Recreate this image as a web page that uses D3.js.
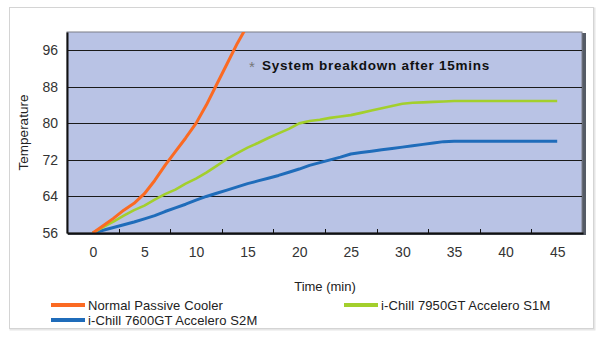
<!DOCTYPE html>
<html><head><meta charset="utf-8">
<script src="https://cdn.jsdelivr.net/npm/d3@7"></script>
<style>
html,body{margin:0;padding:0;background:#fff;}
svg{display:block;font-family:"Liberation Sans",Arial,sans-serif;}
</style></head>
<body><svg id="c" width="600" height="356"></svg>
<script>
const minutes = d3.range(0, 46);
const xTickLabels = [0,5,10,15,20,25,30,35,40,45];
const yTickLabels = [56,64,72,80,88,96];
const seriesNames = ["Normal Passive Cooler","i-Chill 7950GT Accelero S1M","i-Chill 7600GT Accelero S2M"];
const seriesColors = ["#fb6a22","#a3cf2c","#1f6cba"];
const normalPassive = [56,57.6,59.2,61,62.5,64.6,67.5,70.8,73.8,76.8,80,84,88.5,93,97.5,101.5];
const accS1M = [56,57.3,58.5,59.8,61,62,63.3,64.5,65.5,66.8,67.9,69.2,70.7,72.2,73.5,74.7,75.7,76.8,77.8,78.8,80,80.5,80.8,81.2,81.5,81.8,82.3,82.8,83.3,83.8,84.3,84.5,84.6,84.7,84.8,84.9,84.9,84.9,84.9,84.9,84.9,84.9,84.9,84.9,84.9,84.9];
const accS2M = [56,56.6,57.2,57.8,58.4,59.1,59.8,60.7,61.5,62.3,63.2,64,64.7,65.4,66.1,66.8,67.4,68,68.6,69.3,70,70.8,71.4,72,72.6,73.3,73.6,73.9,74.2,74.5,74.8,75.1,75.4,75.7,76,76.1,76.1,76.1,76.1,76.1,76.1,76.1,76.1,76.1,76.1,76.1];
const annotation = "System breakdown after 15mins";

const svg = d3.select("#c");
const L = 67, R = 583, T = 32, B = 233;
const x = d3.scaleLinear().domain([-2.5, 47.5]).range([L, R]);
const y = d3.scaleLinear().domain([56, 100]).range([B, T]);

// outer frame
svg.append("rect").attr("x", 10.5).attr("y", 8.5).attr("width", 584).attr("height", 321)
  .attr("fill", "none").attr("stroke", "#e6e6e6").attr("stroke-width", 2);
svg.append("rect").attr("x", 9.5).attr("y", 7.5).attr("width", 584).attr("height", 321)
  .attr("fill", "#fff").attr("stroke", "#d4d4d4");

// plot shadow + background
svg.append("rect").attr("x", L + 1).attr("y", T + 1).attr("width", R - L + 2).attr("height", B - T + 1)
  .attr("fill", "#555b66");
svg.append("rect").attr("x", L).attr("y", T).attr("width", R - L - 1).attr("height", B - T)
  .attr("fill", "#b9c3e5").attr("stroke", "#7c7f88").attr("stroke-width", 1);

// gridlines
svg.append("g").selectAll("line").data(yTickLabels.slice(1)).join("line")
  .attr("x1", L).attr("x2", R - 1)
  .attr("y1", d => Math.round(y(d)) + 0.5).attr("y2", d => Math.round(y(d)) + 0.5)
  .attr("stroke", "#1a1a1a").attr("stroke-width", 1.2);

// clip
svg.append("clipPath").attr("id", "pc").append("rect")
  .attr("x", L).attr("y", T).attr("width", R - L).attr("height", B - T);

const line = d3.line().x((d, i) => x(minutes[i])).y(d => y(d));
const gL = svg.append("g").attr("clip-path", "url(#pc)");
[[accS2M, 2], [accS1M, 1], [normalPassive, 0]].forEach(([data, k]) => {
  gL.append("path").datum(data).attr("d", line).attr("fill", "none")
    .attr("stroke", seriesColors[k]).attr("stroke-width", k === 1 ? 2.6 : 3)
    .attr("stroke-linejoin", "round");
});

// axes
const yAxis = d3.axisLeft(y).tickValues(yTickLabels).tickSize(0).tickPadding(9);
const gy = svg.append("g").attr("transform", `translate(${L},0)`).call(yAxis);
gy.select(".domain").attr("stroke", "#111").attr("stroke-width", 2);
gy.selectAll("text").attr("font-size", 14).attr("fill", "#333").attr("font-family", "Liberation Sans, Arial, sans-serif");

const xAxis = d3.axisBottom(x).tickValues(xTickLabels).tickFormat(d3.format("d")).tickSize(0).tickPadding(14);
const gx = svg.append("g").attr("transform", `translate(0,${B})`).call(xAxis);
gx.select(".domain").attr("stroke", "#111").attr("stroke-width", 2);
gx.selectAll("text").attr("font-size", 14).attr("fill", "#333").attr("font-family", "Liberation Sans, Arial, sans-serif");
// inner category tick marks
svg.append("g").selectAll("line").data(xTickLabels.slice(0, -1)).join("line")
  .attr("x1", d => Math.round(x(d + 2.5)) + 0.5).attr("x2", d => Math.round(x(d + 2.5)) + 0.5)
  .attr("y1", B).attr("y2", B - 4).attr("stroke", "#111").attr("stroke-width", 1);

// axis titles
svg.append("text").attr("x", x(22.5)).attr("y", 291).attr("text-anchor", "middle")
  .attr("font-size", 13).attr("fill", "#222").text("Time (min)");
svg.append("text").attr("transform", `translate(28,${(T + B) / 2}) rotate(-90)`)
  .attr("text-anchor", "middle").attr("font-size", 13.5).attr("fill", "#222").text("Temperature");

// annotation
svg.append("text").attr("x", 249).attr("y", 72).attr("font-size", 15).attr("fill", "#777").text("*");
svg.append("text").attr("x", 262).attr("y", 70).attr("font-size", 13.5).attr("font-weight", "bold")
  .attr("fill", "#111").attr("letter-spacing", 0.75).text(annotation);

// legend
const legendItems = [
  {k: 0, x: 51, y: 305},
  {k: 2, x: 51, y: 320},
  {k: 1, x: 344, y: 305}
];
const lg = svg.append("g").selectAll("g").data(legendItems).join("g")
  .attr("transform", d => `translate(${d.x},${d.y})`);
lg.append("line").attr("x1", 0).attr("x2", 34).attr("y1", 0).attr("y2", 0)
  .attr("stroke", d => seriesColors[d.k]).attr("stroke-width", 4);
lg.append("text").attr("x", 37).attr("y", 5).attr("font-size", 13).attr("fill", "#222")
  .attr("letter-spacing", 0.1).text(d => seriesNames[d.k]);
</script>
</body></html>
